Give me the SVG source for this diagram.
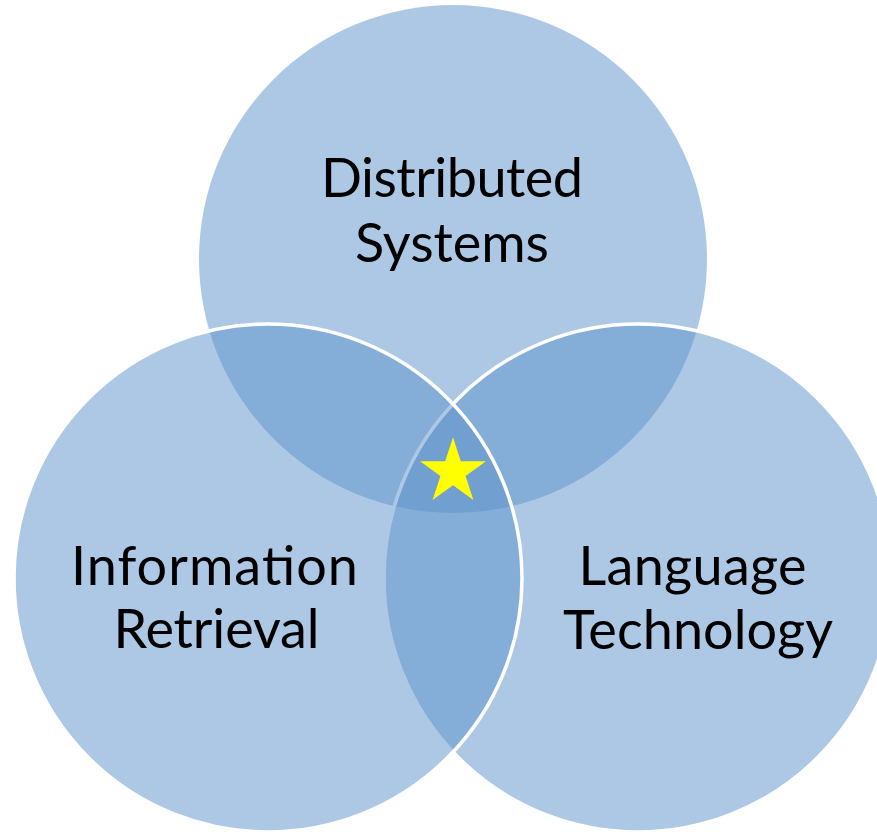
<svg xmlns="http://www.w3.org/2000/svg" width="877" height="832" viewBox="0 0 877 832">
  <style>
    .c { fill: #5b91c9; fill-opacity: 0.5; }
    .s { stroke: #ffffff; stroke-width: 3.5; }
    .t { font-family: Lato, "Open Sans", sans-serif; font-size: 54px; fill: #000000; text-anchor: middle; }
  </style>
  <rect width="877" height="832" fill="#ffffff"/>
  <g id="distributed-systems">
    <circle class="c" cx="453" cy="259" r="254"/>
  </g>
  <g id="language-technology">
    <circle class="c s" cx="638" cy="578" r="254"/>
  </g>
  <g id="information-retrieval">
    <circle class="c s" cx="268" cy="578" r="254"/>
  </g>
  <g id="labels">
    <text class="t" x="452" y="197" textLength="262" lengthAdjust="spacing">Distributed</text>
    <text class="t" x="452" y="262" textLength="194" lengthAdjust="spacing">Systems</text>
    <text class="t" x="214.5" y="585" textLength="287" lengthAdjust="spacing">Information</text>
    <text class="t" x="216.5" y="648" textLength="206" lengthAdjust="spacing">Retrieval</text>
    <text class="t" x="692.5" y="585" textLength="228" lengthAdjust="spacing">Language</text>
    <text class="t" x="698" y="649" textLength="270" lengthAdjust="spacing">Technology</text>
  </g>
  <g id="star">
    <polygon fill="#ffff00" points="453,437.3 460.8,461.3 486,461.3 465.6,476.1 473.4,500.1 453,485.3 432.6,500.1 440.4,476.1 420,461.3 445.2,461.3"/>
  </g>
</svg>
